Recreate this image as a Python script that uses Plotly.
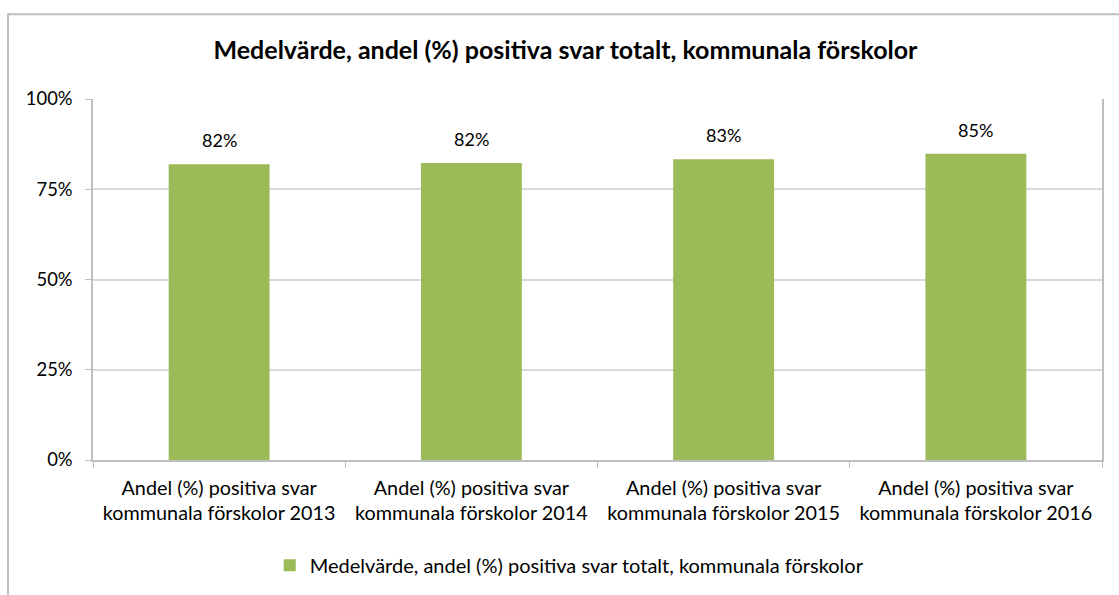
import plotly.graph_objects as go

categories = [
    "Andel (%) positiva svar<br>kommunala förskolor 2013",
    "Andel (%) positiva svar<br>kommunala förskolor 2014",
    "Andel (%) positiva svar<br>kommunala förskolor 2015",
    "Andel (%) positiva svar<br>kommunala förskolor 2016",
]
values = [0.819, 0.823, 0.833, 0.848]
labels = ["82%", "82%", "83%", "85%"]
series_name = "Medelvärde, andel (%) positiva svar totalt, kommunala förskolor"
title_text = "Medelvärde, andel (%) positiva svar totalt, kommunala förskolor"

FONT = "Lato"
GRID = "#D9D9D9"
AXIS = "#BFBFBF"

fig = go.Figure()
fig.add_trace(go.Bar(
    x=categories, y=values, name=series_name,
    marker=dict(color="#9BBB59", line=dict(width=0)),
    showlegend=True,
))

for c, v, t in zip(categories, values, labels):
    fig.add_annotation(x=c, y=v, text=t, showarrow=False, yshift=24,
                       font=dict(family=FONT, size=18, color="#000000"))

fig.update_layout(
    width=1119, height=595,
    margin=dict(l=93, r=17, t=99, b=134),
    paper_bgcolor="white", plot_bgcolor="white",
    bargap=0.6,
    title=dict(text="<b>" + title_text + "</b>", x=565.5 / 1119, xanchor="center",
               y=1 - 50 / 595, yanchor="middle",
               font=dict(family=FONT, size=25, color="#000000")),
    font=dict(family=FONT, size=19.8, color="#000000"),
    legend=dict(orientation="h", x=0.472, xanchor="center", y=-0.288, yanchor="middle",
                font=dict(family=FONT, size=20), itemwidth=30),
    xaxis=dict(showline=True, linecolor=AXIS, linewidth=1.5, ticks="outside",
               tickson="boundaries", ticklen=6, tickcolor=AXIS, showgrid=False,
               ticklabelstandoff=9, tickfont=dict(family=FONT, size=19.8)),
    yaxis=dict(range=[0, 1], tickvals=[0, 0.25, 0.5, 0.75, 1.0],
               tickformat=".0%", showline=True, mirror=True, linecolor=AXIS, linewidth=1.5,
               ticks="outside", ticklen=6, tickcolor=AXIS, showgrid=True, gridcolor=GRID,
               gridwidth=1.5, zeroline=False, ticklabelstandoff=9,
               tickfont=dict(family=FONT, size=18.4)),
)

# Outer chart border (partly beyond the visible window)
fig.add_shape(type="rect", xref="paper", yref="paper",
              x0=-85 / 1009, x1=1.1, y0=-0.5, y1=447 / 362,
              line=dict(color=AXIS, width=2), layer="above")

fig.write_html("out.html", config={"displayModeBar": False},
               post_script="document.body.style.margin='0';document.body.style.overflow='hidden';")
